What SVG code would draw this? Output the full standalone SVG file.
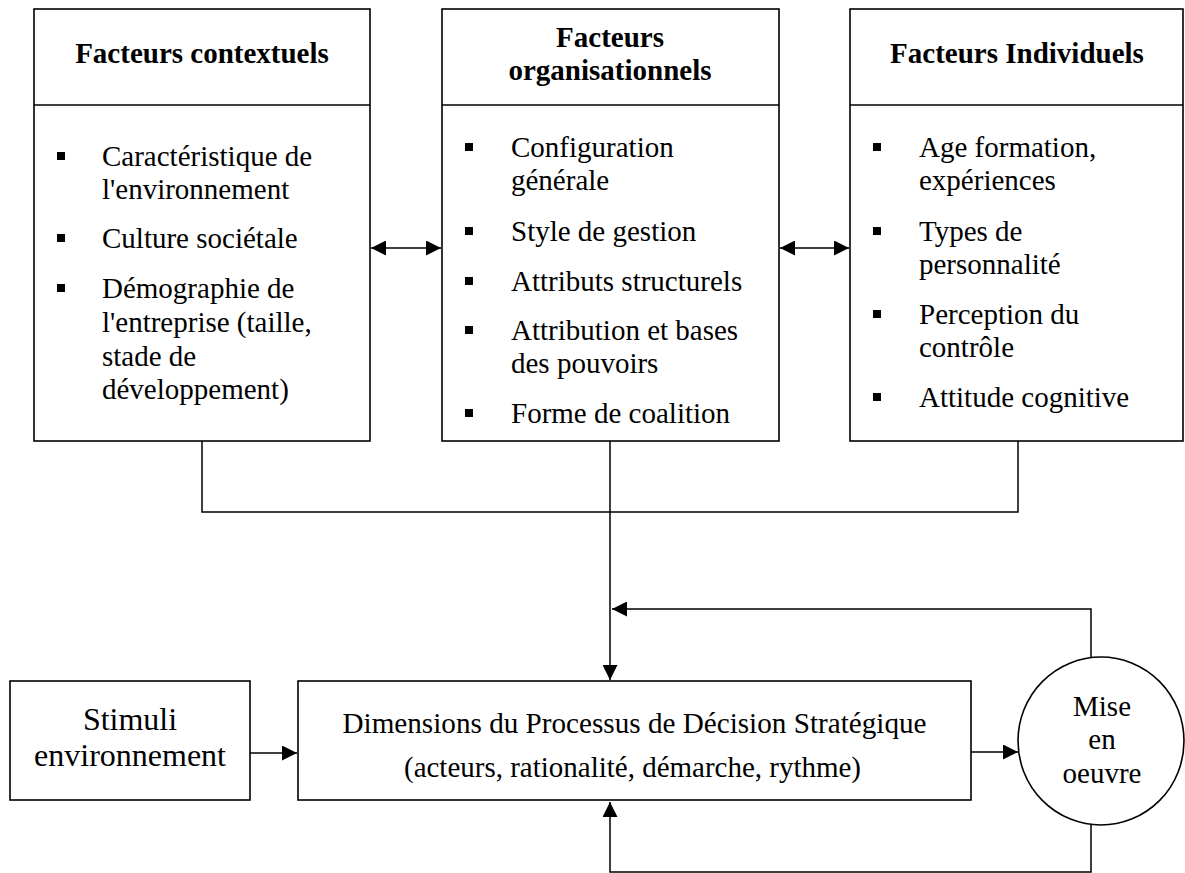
<svg xmlns="http://www.w3.org/2000/svg" width="1185" height="873" viewBox="0 0 1185 873">
<style>
  .box { fill: #ffffff; stroke: #000000; stroke-width: 1.6; }
  .ln { fill: none; stroke: #000000; stroke-width: 1.5; }
  .t { font-family: 'Liberation Serif', 'Times New Roman', serif; font-size: 29px; fill: #000000; }
  .h { font-family: 'Liberation Serif', 'Times New Roman', serif; font-size: 29px; font-weight: bold; fill: #000000; text-anchor: middle; }
  .c { text-anchor: middle; }
  .b { fill: #000000; }
</style>
<defs>
  <marker id="arr" viewBox="0 0 15 15" refX="15" refY="7.5" markerWidth="15" markerHeight="15" markerUnits="userSpaceOnUse" orient="auto-start-reverse">
    <path d="M0,0 L15,7.5 L0,15 Z" fill="#000000"/>
  </marker>
</defs>
<rect x="0" y="0" width="1185" height="873" fill="#ffffff"/>

<g id="connectors">
  <line class="ln" x1="371" y1="248" x2="441" y2="248" marker-start="url(#arr)" marker-end="url(#arr)"/>
  <line class="ln" x1="780" y1="248" x2="849" y2="248" marker-start="url(#arr)" marker-end="url(#arr)"/>
  <polyline class="ln" points="202,441 202,512 1018,512 1018,441"/>
  <line class="ln" x1="610" y1="441" x2="610" y2="680" marker-end="url(#arr)"/>
  <polyline class="ln" points="1091,657 1091,609 612,609" marker-end="url(#arr)"/>
  <polyline class="ln" points="1091,825 1091,872 610,872 610,802" marker-end="url(#arr)"/>
  <line class="ln" x1="250" y1="753" x2="297" y2="753" marker-end="url(#arr)"/>
  <line class="ln" x1="971" y1="752" x2="1018" y2="752" marker-end="url(#arr)"/>
</g>

<g id="node-contextuels">
  <rect class="box" x="34" y="9" width="336" height="432"/>
  <line class="ln" x1="34" y1="105" x2="370" y2="105" style="stroke-width:1.6"/>
  <text class="h" x="202" y="63">Facteurs contextuels</text>
  <rect class="b" x="57" y="152" width="8" height="8"/>
  <text class="t" x="102" y="166">Caractéristique de</text>
  <text class="t" x="102" y="199">l'environnement</text>
  <rect class="b" x="57" y="234" width="8" height="8"/>
  <text class="t" x="102" y="248">Culture sociétale</text>
  <rect class="b" x="57" y="284" width="8" height="8"/>
  <text class="t" x="102" y="298">Démographie de</text>
  <text class="t" x="102" y="332">l'entreprise (taille,</text>
  <text class="t" x="102" y="366">stade de</text>
  <text class="t" x="102" y="399">développement)</text>
</g>

<g id="node-organisationnels">
  <rect class="box" x="442" y="9" width="337" height="432"/>
  <line class="ln" x1="442" y1="105" x2="779" y2="105" style="stroke-width:1.6"/>
  <text class="h" x="610" y="47">Facteurs</text>
  <text class="h" x="610" y="80">organisationnels</text>
  <rect class="b" x="465" y="143" width="8" height="8"/>
  <text class="t" x="511" y="157">Configuration</text>
  <text class="t" x="511" y="190">générale</text>
  <rect class="b" x="465" y="227" width="8" height="8"/>
  <text class="t" x="511" y="241">Style de gestion</text>
  <rect class="b" x="465" y="277" width="8" height="8"/>
  <text class="t" x="511" y="291">Attributs structurels</text>
  <rect class="b" x="465" y="326" width="8" height="8"/>
  <text class="t" x="511" y="340">Attribution et bases</text>
  <text class="t" x="511" y="373">des pouvoirs</text>
  <rect class="b" x="465" y="409" width="8" height="8"/>
  <text class="t" x="511" y="423">Forme de coalition</text>
</g>

<g id="node-individuels">
  <rect class="box" x="850" y="9" width="333" height="432"/>
  <line class="ln" x1="850" y1="105" x2="1183" y2="105" style="stroke-width:1.6"/>
  <text class="h" x="1017" y="63">Facteurs Individuels</text>
  <rect class="b" x="873" y="143" width="8" height="8"/>
  <text class="t" x="919" y="157">Age formation,</text>
  <text class="t" x="919" y="190">expériences</text>
  <rect class="b" x="873" y="227" width="8" height="8"/>
  <text class="t" x="919" y="241">Types de</text>
  <text class="t" x="919" y="274">personnalité</text>
  <rect class="b" x="873" y="310" width="8" height="8"/>
  <text class="t" x="919" y="324">Perception du</text>
  <text class="t" x="919" y="357">contrôle</text>
  <rect class="b" x="873" y="393" width="8" height="8"/>
  <text class="t" x="919" y="407">Attitude cognitive</text>
</g>

<g id="node-stimuli">
  <rect class="box" x="10" y="681" width="240" height="119"/>
  <text class="t c" x="130" y="730" style="font-size:32px">Stimuli</text>
  <text class="t c" x="130" y="766" style="font-size:32px">environnement</text>
</g>

<g id="node-processus">
  <rect class="box" x="298" y="681" width="673" height="119"/>
  <text class="t c" x="634.5" y="733" style="font-size:29.5px" textLength="584" lengthAdjust="spacingAndGlyphs">Dimensions du Processus de Décision Stratégique</text>
  <text class="t c" x="632.5" y="777" style="font-size:29.5px" textLength="457" lengthAdjust="spacingAndGlyphs">(acteurs, rationalité, démarche, rythme)</text>
</g>

<g id="node-mise-en-oeuvre">
  <ellipse class="box" cx="1101" cy="741" rx="83" ry="84"/>
  <text class="t c" x="1102" y="716">Mise</text>
  <text class="t c" x="1102" y="749">en</text>
  <text class="t c" x="1102" y="783">oeuvre</text>
</g>
</svg>
